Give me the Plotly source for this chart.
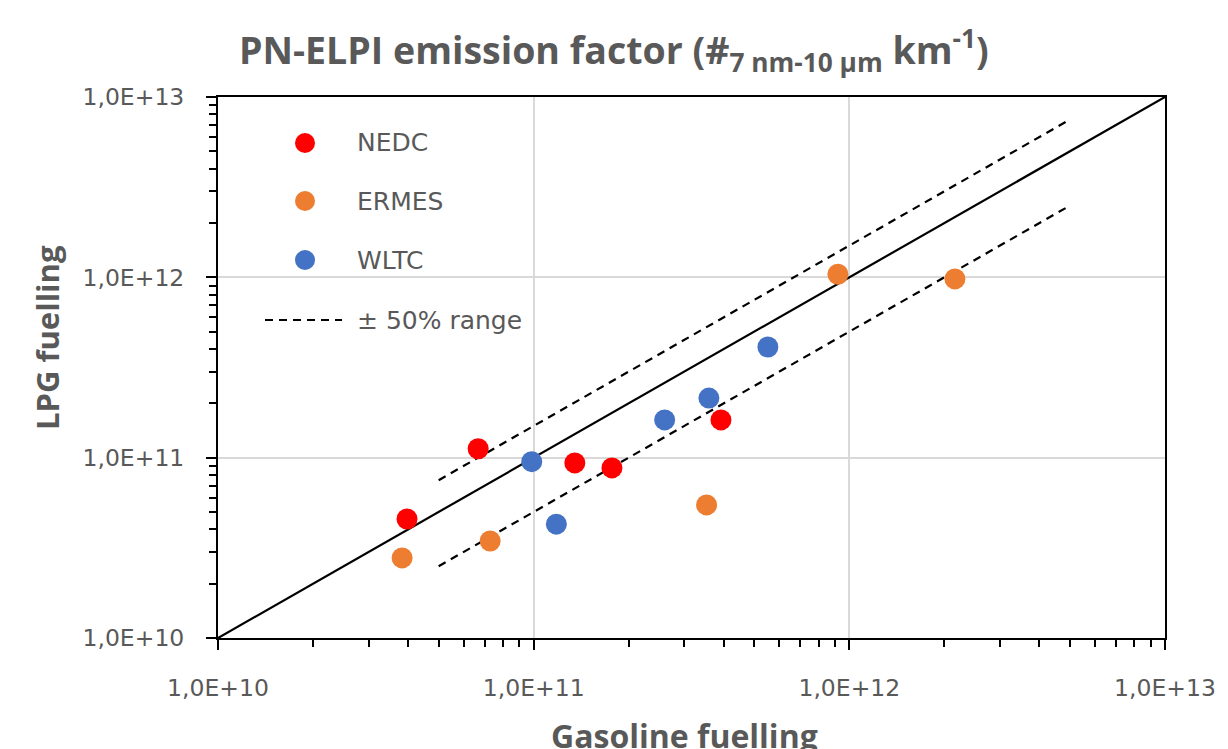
import plotly.graph_objects as go

# ---- data ----
nedc_x = [3.97e10, 6.67e10, 1.35e11, 1.77e11, 3.92e11]
nedc_y = [4.57e10, 1.12e11, 9.35e10, 8.77e10, 1.62e11]
ermes_x = [3.83e10, 7.28e10, 3.53e11, 9.2e11, 2.16e12]
ermes_y = [2.78e10, 3.45e10, 5.47e10, 1.04e12, 9.8e11]
wltc_x = [9.86e10, 1.18e11, 2.6e11, 3.59e11, 5.52e11]
wltc_y = [9.5e10, 4.28e10, 1.62e11, 2.14e11, 4.11e11]

diag_x = [1e10, 1e13]
range_x = [5e10, 5e12]
upper_factor = 1.5
lower_factor = 0.5

tick_vals = [1e10, 1e11, 1e12, 1e13]
tick_text = ["1,0E+10", "1,0E+11", "1,0E+12", "1,0E+13"]
minor_vals = [m * 10 ** e for e in (10, 11, 12) for m in range(2, 10)]

series = [("NEDC", nedc_x, nedc_y, "#FF0000"),
          ("ERMES", ermes_x, ermes_y, "#ED7D31"),
          ("WLTC", wltc_x, wltc_y, "#4472C4")]

GREY = "#595959"
TICKFONT = "DejaVu Sans"
TITLEFONT = "Open Sans"

fig = go.Figure()

fig.add_trace(go.Scatter(x=diag_x, y=diag_x, mode="lines",
                         line=dict(color="black", width=2.2), showlegend=False,
                         hoverinfo="skip"))
fig.add_trace(go.Scatter(x=range_x, y=[v * upper_factor for v in range_x], mode="lines",
                         line=dict(color="black", width=2.2, dash="8px,6px"), showlegend=False))
fig.add_trace(go.Scatter(x=range_x, y=[v * lower_factor for v in range_x], mode="lines",
                         line=dict(color="black", width=2.2, dash="8px,6px"), showlegend=False))

for name, xs, ys, col in series:
    fig.add_trace(go.Scatter(x=xs, y=ys, mode="markers", name=name,
                             marker=dict(color=col, size=21, line=dict(width=0)),
                             showlegend=False))

# ---- custom legend ----
L, R, T, B = 218, 1165, 97, 638
W, H = R - L, B - T

def px(xp):
    return (xp - L) / W

def py(yp):
    return (B - yp) / H

shapes = []
annotations = []
legend_rows = [143, 201, 260]
for (name, xs, ys, col), yr in zip(series, legend_rows):
    shapes.append(dict(type="circle", xref="paper", yref="paper",
                       xsizemode="pixel", ysizemode="pixel",
                       xanchor=px(305), yanchor=py(yr),
                       x0=-10, x1=10, y0=-10, y1=10,
                       fillcolor=col, line=dict(width=0)))
    annotations.append(dict(x=px(355), y=py(yr), xref="paper", yref="paper",
                            text=name, showarrow=False, xanchor="left", yanchor="middle",
                            font=dict(family=TICKFONT, size=25, color=GREY)))
shapes.append(dict(type="line", xref="paper", yref="paper",
                   x0=px(265), x1=px(342), y0=py(320), y1=py(320),
                   line=dict(color="black", width=2.2, dash="8px,6px")))
annotations.append(dict(x=px(355), y=py(320), xref="paper", yref="paper",
                        text="± 50% range", showarrow=False, xanchor="left", yanchor="middle",
                        font=dict(family=TICKFONT, size=25, color=GREY)))

# axis titles
annotations.append(dict(x=px(47), y=py(338), xref="paper", yref="paper",
                        text="<b>LPG fuelling</b>", textangle=-90, showarrow=False,
                        xanchor="center", yanchor="middle",
                        font=dict(family=TITLEFONT, size=31, color=GREY)))
annotations.append(dict(x=px(684), y=py(735), xref="paper", yref="paper",
                        text="<b>Gasoline fuelling</b>", showarrow=False,
                        xanchor="center", yanchor="middle",
                        font=dict(family=TITLEFONT, size=32, color=GREY)))
# title
annotations.append(dict(x=px(614), y=py(50), xref="paper", yref="paper",
                        text="<b>PN-ELPI emission factor (#<sub>7 nm-10 µm</sub> km<sup>-1</sup>)</b>",
                        showarrow=False, xanchor="center", yanchor="middle",
                        font=dict(family=TITLEFONT, size=37.5, color=GREY)))

axis_common = dict(type="log", tickvals=tick_vals, ticktext=tick_text,
                   showline=True, linecolor="black", linewidth=2, mirror=True,
                   showgrid=True, gridcolor="#D9D9D9", gridwidth=2,
                   ticks="outside", ticklen=10, tickwidth=2, tickcolor="black",
                   minor=dict(tickvals=minor_vals, ticks="outside", ticklen=7,
                              tickwidth=2, tickcolor="black", showgrid=False),
                   tickfont=dict(family=TICKFONT, size=23.5, color=GREY),
                   zeroline=False)

fig.update_layout(
    width=1228, height=749,
    margin=dict(l=L, r=1228 - R, t=T, b=749 - B),
    plot_bgcolor="white", paper_bgcolor="white",
    xaxis=dict(range=[10, 13], ticklabelstandoff=18, **axis_common),
    yaxis=dict(range=[10, 13], ticklabelstandoff=17, **axis_common),
    shapes=shapes, annotations=annotations,
    showlegend=False,
)

fig.write_html("out.html")
